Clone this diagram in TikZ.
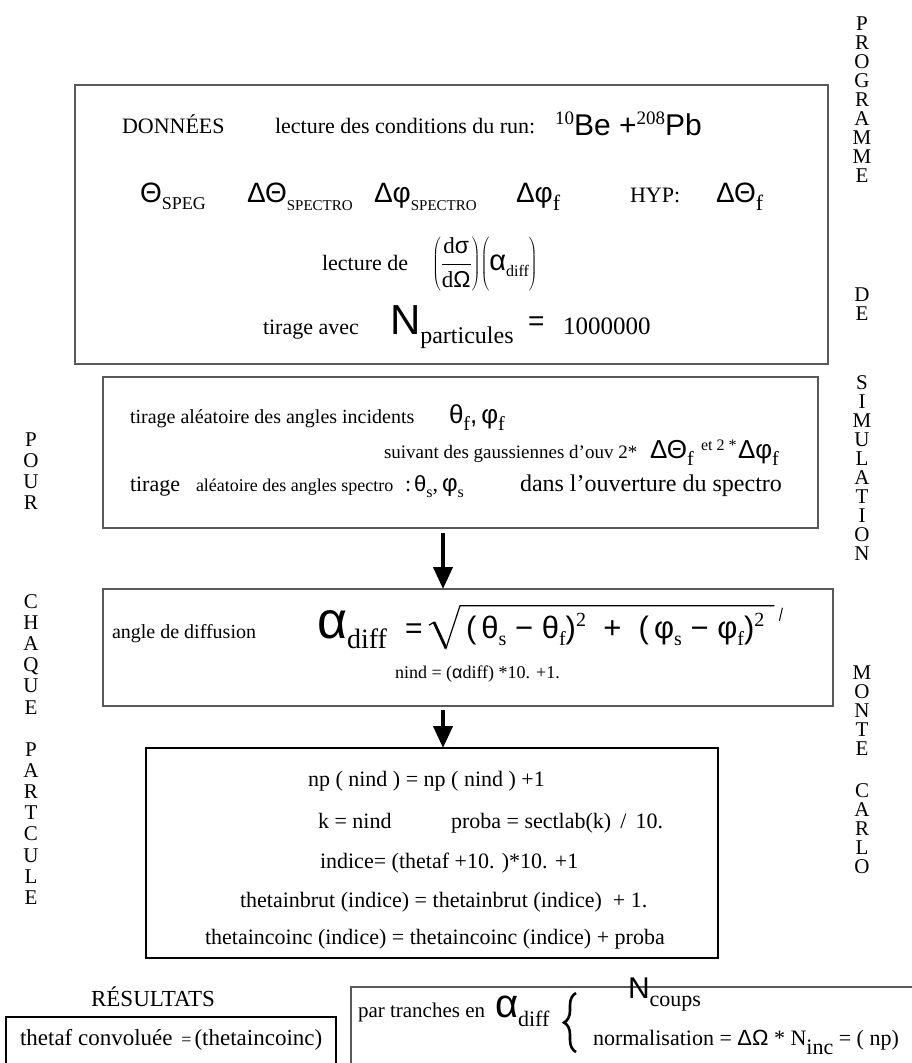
\documentclass[tikz,border=0pt]{standalone}
\usepackage{fontspec}
\setmainfont{Liberation Serif}
\newfontfamily\hv{Liberation Sans}
\newfontfamily\gk{Liberation Sans}
\usetikzlibrary{arrows.meta,calc,decorations.pathreplacing}
\newcommand\fs[1]{\fontsize{#1}{#1}\selectfont}
\newcommand\myLo[3]{\raisebox{-#2pt}{\fs{#1}#3}}
\newcommand\myHi[3]{\raisebox{#2pt}{\fs{#1}#3}}
\begin{document}
\begin{tikzpicture}[x=1pt,y=-1pt,
  every node/.style={inner sep=0pt,outer sep=0pt},
  boxa/.style={draw=black!65,line width=1.4pt,inner sep=0pt,anchor=north west},
  boxb/.style={draw=black,line width=1.1pt,inner sep=0pt,anchor=north west},
  tx/.style={anchor=base west,font=\fs{22}},
  vl/.style={anchor=base,font=\fs{21}},
  vll/.style={anchor=base,font=\fs{21}},
  arr/.style={line width=4pt,-{Triangle[length=22pt,width=19pt]}}]
\useasboundingbox (0,0) rectangle (912,1063);
\clip (0,0) rectangle (912,1063);
\fill[white] (0,0) rectangle (912,1063);

% boxes
\node[boxa,minimum width=753pt,minimum height=279pt] (b1) at (75,85) {};
\node[boxa,minimum width=715pt,minimum height=151pt] (b2) at (103,377) {};
\node[boxa,minimum width=730pt,minimum height=117pt] (b3) at (103,589) {};
\node[boxb,minimum width=572pt,minimum height=210pt] (b4) at (146,748) {};
\node[boxb,minimum width=330pt,minimum height=70pt] (b5) at (6,1017) {};
\node[boxa,minimum width=600pt,minimum height=100pt] (b6) at (351,987) {};

% arrows
\coordinate (ax) at (443,0);
\draw[arr] ($(b2.south -| ax)+(0,5)$) -- (b3.north -| ax);
\draw[arr] ($(b3.south -| ax)+(0,4)$) -- (b4.north -| ax);

% box 1
\node[tx] (don) at (122,133) {DONNÉES};
\node[tx] (lec) at (275,133) {lecture des conditions du run:};
\node[tx,font=\fs{30}\hv] (bepb) at (555,135) {\myHi{19}{11}{\rmfamily 10}Be +\myHi{19}{11}{\rmfamily 208}Pb};
\node[tx,font=\fs{28}\gk] (tspeg) at (140,202) {Θ\myLo{18}{7}{\rmfamily SPEG}};
\node[tx,font=\fs{28}\gk] (dts) at (247,202) {ΔΘ\myLo{15}{8}{\rmfamily SPECTRO}};
\node[tx,font=\fs{28}\gk] (dps) at (374,202) {Δφ\myLo{15}{8}{\rmfamily SPECTRO}};
\node[tx,font=\fs{28}\gk] (dpf) at (516,202) {Δφ\myLo{22}{8}{\rmfamily f}};
\node[tx] (hyp) at (630,202) {HYP:};
\node[tx,font=\fs{28}\gk] (dtf) at (716,202) {ΔΘ\myLo{22}{8}{\rmfamily f}};
\node[tx] (lde) at (322,270) {lecture de};
\node[anchor=west,font=\fs{23}] (frac) at (432,264) {$\displaystyle\left(\frac{\mbox{\fs{23}d{\gk σ}}}{\mbox{\fs{23}d{\gk Ω}}}\right)\!\left(\vphantom{\frac{\mbox{\fs{23}d}}{\mbox{\fs{23}d}}}\mbox{\gk\fs{29}α\myLo{16}{6}{\rmfamily diff}}\right)$};
\node[tx] (tir) at (263,334) {tirage avec};
\node[tx,font=\fs{42}\hv] (npart) at (390,334) {N\myLo{24}{9}{\rmfamily particules}};
\node[tx,font=\fs{28}\hv] (eq1) at (528,330) {=};
\node[tx,font=\fs{25}] (mil) at (563,334) {1000000};

% box 2
\node[tx,font=\fs{20}] (ti1) at (130,423) {tirage aléatoire des angles incidents};
\node[tx,font=\fs{26}\gk] (tf1) at (449,423) {θ\myLo{20}{7}{\rmfamily f},\hspace{4pt}φ\myLo{20}{7}{\rmfamily f}};
\node[tx,font=\fs{19}] (sui) at (384,458) {suivant des gaussiennes d'ouv 2*};
\node[tx,font=\fs{26}\gk] (dtf2) at (650,458) {ΔΘ\myLo{20}{7}{\rmfamily f}};
\node[tx,font=\fs{16}] (et) at (701,450) {et 2 *};
\node[tx,font=\fs{26}\gk] (dpf2) at (738,458) {Δφ\myLo{20}{7}{\rmfamily f}};
\node[tx] (ti2) at (130,491) {tirage};
\node[tx,font=\fs{18}] (ale) at (196,491) {aléatoire des angles spectro};
\node[tx] (ts) at (405,491) {:\hspace{3pt}{\gk θ}\myLo{16}{6}{s},\hspace{4pt}{\gk\fs{24}φ}\myLo{16}{6}{s}};
\node[tx,font=\fs{24}] (dans) at (520,491) {dans l'ouverture du spectro};

% box 3
\node[tx,font=\fs{20}] (adf) at (112,638) {angle de diffusion};
\node[tx,font=\fs{52}\gk] (al) at (317,638) {α\myLo{28}{10}{\rmfamily diff}};
\node[tx,font=\fs{30}\hv] (eq2) at (405,638) {=};
\node[anchor=base west,font=\fs{31}\hv] (sqc) at (466,638) {(\,{\gk θ}\myLo{20}{7}{\rmfamily s} − {\gk θ}\myLo{20}{7}{\rmfamily f})\myHi{20}{12}{\rmfamily 2} \ + \ (\,{\gk φ}\myLo{20}{7}{\rmfamily s} − {\gk φ}\myLo{20}{7}{\rmfamily f})\myHi{20}{12}{\rmfamily 2}};
\coordinate (rt) at ($(sqc.north west)+(-6,-7)$);
\coordinate (rb) at ($(sqc.south west)+(-20,3)$);
\coordinate (rh) at ($(rb)+(-12,-26)$);
\coordinate (re) at ($(rt -| sqc.east)+(10,0)$);
\draw[line width=1.2pt,line join=miter] ($(rh)+(-5,3)$) -- (rh) -- (rb) -- (rt) -- (re);
\draw[line width=2.8pt] (rh) -- (rb);
\draw[line width=1pt] ($(re)+(8,2)$) -- ++(-3,13);
\node[tx,font=\fs{18}] (nind) at (395,678) {nind = ({\gk α}diff) *10. +1.};

% box 4
\node[tx] (np) at (308,786) {np ( nind ) = np ( nind ) +1};
\node[tx] (kn) at (318,828) {k = nind};
\node[tx] (pro) at (451,828) {proba = sectlab(k) \,/\, 10.};
\node[tx] (ind) at (320,868) {indice= (thetaf +10. )*10. +1};
\node[tx] (tb) at (240,907) {thetainbrut (indice) = thetainbrut (indice) \ + 1.};
\node[tx] (tc) at (205,944) {thetaincoinc (indice) = thetaincoinc (indice) + proba};

% results
\node[anchor=base,font=\fs{23}] (res) at (153,1006) {RÉSULTATS};
\node[tx,font=\fs{23}] (tconv) at (20,1045) {thetaf convoluée {\fs{18}\,=\,}(thetaincoinc)};
\node[tx,font=\fs{21}] (par) at (358,1017) {par tranches en};
\node[tx,font=\fs{40}\gk] (al2) at (495,1017) {α\myLo{22}{9}{\rmfamily diff}};
\coordinate (brb) at (576,1052);
\coordinate (brt) at (576,993);
\draw[decorate,decoration={brace,amplitude=12pt},line width=2.6pt] (brb) -- (brt);
\node[tx,font=\fs{30}\hv] (nc) at (628,998) {N\myLo{22}{8}{\rmfamily coups}};
\node[tx] (norm) at (593,1045) {normalisation = {\gk ΔΩ} * N\myLo{22}{9}{inc} = ( np)};

% vertical texts
\foreach \l [count=\i] in {P,R,O,G,R,A,M,M,E}
  \node[vl] (rp\i) at (862,{23+19*(\i-1)+7}) {\l};
\foreach \l [count=\i] in {D,E}
  \node[vl] (rd\i) at (862,{294+19*(\i-1)+7}) {\l};
\foreach \l [count=\i] in {S,I,M,U,L,A,T,I,O,N}
  \node[vl] (rs\i) at (862,{382+19*(\i-1)+7}) {\l};
\foreach \l [count=\i] in {M,O,N,T,E}
  \node[vl] (rm\i) at (862,{672+19*(\i-1)+7}) {\l};
\foreach \l [count=\i] in {C,A,R,L,O}
  \node[vl] (rc\i) at (862,{790+19*(\i-1)+7}) {\l};
\foreach \l [count=\i] in {P,O,U,R}
  \node[vll] (lp\i) at (31,{439+21.2*(\i-1)+7}) {\l};
\foreach \l [count=\i] in {C,H,A,Q,U,E}
  \node[vll] (lc\i) at (31,{601+21.2*(\i-1)+7}) {\l};
\foreach \l [count=\i] in {P,A,R,T,C,U,L,E}
  \node[vll] (lq\i) at (31,{749+21.2*(\i-1)+7}) {\l};
\end{tikzpicture}
\end{document}
